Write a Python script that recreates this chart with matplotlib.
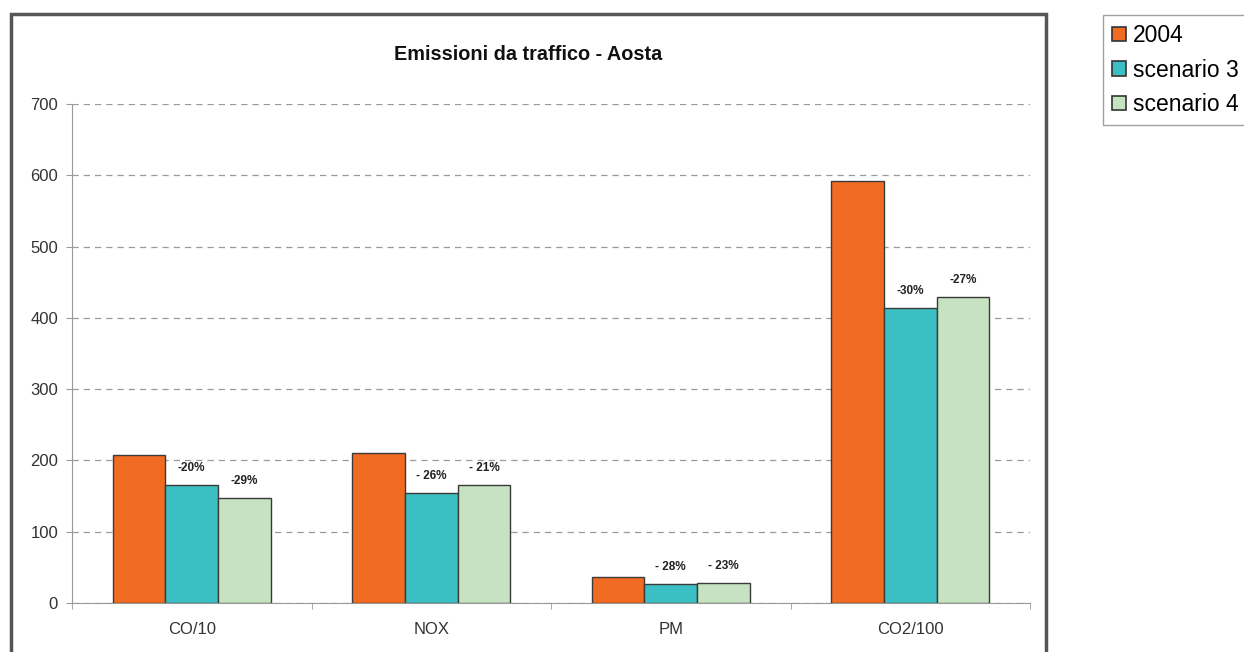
import matplotlib.pyplot as plt
import matplotlib.patches as mpatches
import numpy as np

plt.rcParams['font.family'] = ['Liberation Sans', 'DejaVu Sans']

categories = ['CO/10', 'NOX', 'PM', 'CO2/100']
series_names = ['2004', 'scenario 3', 'scenario 4']
v2004 = [207, 210, 36, 592]
vscen3 = [165, 154, 26, 414]
vscen4 = [147, 165, 28, 429]
lab3 = ['-20%', '- 26%', '- 28%', '-30%']
lab4 = ['-29%', '- 21%', '- 23%', '-27%']

colors = ['#F26B22', '#3BBFC2', '#C6E3C1']


def main():
    fig = plt.figure(figsize=(12.44, 6.52), dpi=100)
    W, H = 1244, 652

    # chart outer border
    border = mpatches.Rectangle((11 / W, -0.02), (1046 - 11) / W, 1 - 14 / H + 0.02,
                                transform=fig.transFigure, fill=False,
                                edgecolor='#555555', linewidth=2.5)
    fig.patches.append(border)

    ax = fig.add_axes([72 / W, 1 - 603 / H, (1030 - 72) / W, (603 - 104) / H])
    x = np.arange(len(categories))
    w = 0.22
    data = [v2004, vscen3, vscen4]
    for i, vals in enumerate(data):
        ax.bar(x + (i - 1) * w, vals, w, color=colors[i], edgecolor='#3a3a3a',
               linewidth=1.0, label=series_names[i], zorder=3)

    for j in range(len(categories)):
        ax.annotate(lab3[j], (x[j], vscen3[j]), xytext=(0, 8), textcoords='offset points',
                    ha='center', va='bottom', fontsize=8.5, fontweight='bold', color='#222222')
        ax.annotate(lab4[j], (x[j] + w, vscen4[j]), xytext=(0, 8), textcoords='offset points',
                    ha='center', va='bottom', fontsize=8.5, fontweight='bold', color='#222222')

    ax.set_xlim(-0.5, len(categories) - 0.5)
    ax.set_ylim(0, 700)
    ax.set_yticks(np.arange(0, 701, 100))
    ax.yaxis.grid(True, linestyle=(0, (5, 4)), color='#9a9a9a', linewidth=0.9, zorder=0)
    ax.set_axisbelow(True)
    ax.set_xticks(x)
    ax.set_xticklabels(categories, fontsize=12, color='#333333')
    ax.set_xticks(np.arange(-0.5, len(categories)), minor=True)
    ax.tick_params(axis='x', which='major', length=0, pad=14)
    ax.tick_params(axis='x', which='minor', length=4, color='#999999')
    ax.tick_params(axis='y', length=4, color='#999999', labelsize=12, labelcolor='#333333', pad=6)
    for s in ['top', 'right']:
        ax.spines[s].set_visible(False)
    ax.spines['left'].set_color('#999999')
    ax.spines['bottom'].set_color('#999999')

    fig.text(528 / W, 1 - 54 / H, 'Emissioni da traffico - Aosta', fontsize=14.3,
             fontweight='bold', color='#111111', ha='center', va='center')

    handles = [mpatches.Patch(facecolor=colors[i], edgecolor='#333333', linewidth=1.2)
               for i in range(3)]
    leg = fig.legend(handles, series_names, loc='upper left',
                     bbox_to_anchor=(1103 / W, 1 - 15 / H), fontsize=16.5,
                     frameon=True, fancybox=False, edgecolor='#888888',
                     handlelength=0.6, handleheight=0.6, handletextpad=0.3,
                     labelspacing=0.5, borderpad=0.4, borderaxespad=0)
    leg.get_frame().set_linewidth(1.0)

    fig.savefig('out.png', dpi=100)


if __name__ == '__main__':
    main()
